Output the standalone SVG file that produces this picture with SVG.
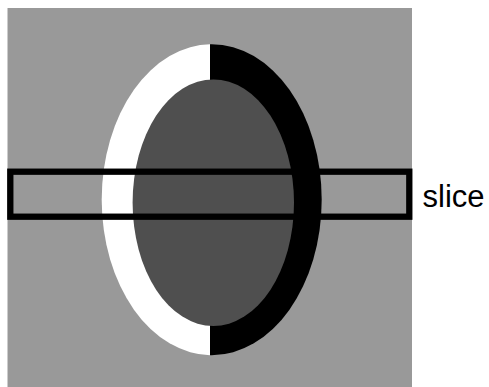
<svg xmlns="http://www.w3.org/2000/svg" width="489" height="387" viewBox="0 0 489 387">
<defs>
<clipPath id="leftHalf"><rect x="0" y="0" width="210" height="387"/></clipPath>
<clipPath id="rightHalf"><rect x="210" y="0" width="279" height="387"/></clipPath>
</defs>
<style>
.lbl{font-family:"Liberation Sans",Arial,sans-serif;font-size:31px;fill:#000}
</style>
<rect width="489" height="387" fill="#ffffff"/>
<g id="background"><rect x="7.5" y="8" width="404.5" height="379" fill="#999999"/></g>
<g id="outer-ellipse">
<ellipse cx="211.7" cy="199.7" rx="110" ry="155.5" fill="#ffffff" clip-path="url(#leftHalf)"/>
<ellipse cx="211.7" cy="199.7" rx="110" ry="155.5" fill="#000000" clip-path="url(#rightHalf)"/>
</g>
<g id="inner-ellipse"><ellipse cx="213.3" cy="202.7" rx="80.7" ry="123.3" fill="#4f4f4f"/></g>
<g id="slice"><rect x="10.3" y="171.7" width="399" height="45" fill="none" stroke="#000" stroke-width="6.3"/></g>
<text class="lbl" x="422.5" y="207">slice</text>
</svg>
